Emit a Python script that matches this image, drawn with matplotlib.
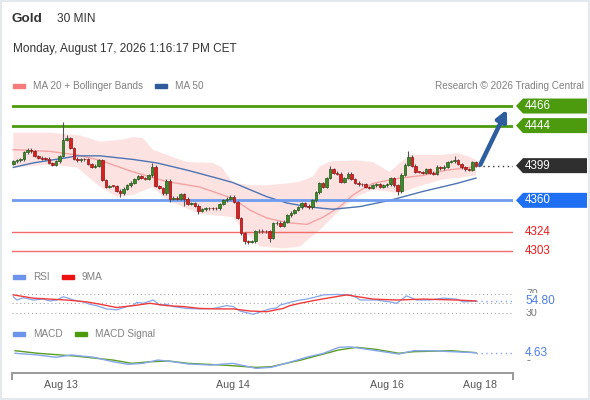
import matplotlib
matplotlib.use("Agg")
import matplotlib.pyplot as plt
import matplotlib.transforms as mtransforms
from matplotlib.patches import Polygon, Rectangle
import numpy as np

plt.rcParams['font.family'] = ['Liberation Sans', 'DejaVu Sans']

W, H = 590, 400

# ---- data (30 min candles, index = candle number) ----
first_open = 4401
closes = [4404, 4405, 4406, 4414, 4417, 4415, 4410, 4408, 4407, 4407,
          4402, 4400, 4404, 4410, 4428, 4430, 4419, 4407, 4405, 4406,
          4406, 4401, 4398, 4399, 4405, 4383, 4375, 4376, 4376, 4371,
          4368, 4373, 4377, 4380, 4384, 4387, 4385, 4384, 4388, 4398,
          4376, 4374, 4368, 4382, 4362, 4363, 4362, 4367, 4362, 4356,
          4357, 4354, 4348, 4350, 4351, 4351, 4351, 4351, 4356, 4360,
          4362, 4364, 4358, 4340, 4323, 4314, 4313, 4314, 4325, 4326,
          4325, 4325, 4318, 4334, 4335, 4331, 4336, 4343, 4346, 4349,
          4352, 4357, 4354, 4352, 4360, 4369, 4379, 4375, 4385, 4395,
          4391, 4390, 4381, 4385, 4390, 4384, 4380, 4378, 4378, 4375,
          4374, 4377, 4378, 4375, 4377, 4378, 4385, 4377, 4370, 4389,
          4400, 4409, 4399, 4392, 4392, 4391, 4395, 4391, 4390, 4397,
          4396, 4398, 4403, 4404, 4405, 4401, 4397, 4395, 4394, 4403,
          4399]
extra_high = {14: 4448, 15: 4434, 39: 4402, 89: 4399, 111: 4416, 119: 4400, 124: 4410}
extra_low = {30: 4364, 44: 4358, 48: 4354, 52: 4345, 65: 4311, 66: 4311, 72: 4313, 108: 4366}

bb_up_idx = [0, 10.3, 18.7, 24.4, 30, 33.6, 36.4, 39.2, 43.2, 48.8, 56.1, 58.6, 60,
             61.7, 66.5, 71.3, 76.9, 80.5, 84.2, 86.1, 88, 89.8, 96.5, 101, 105.8,
             108.6, 111.4, 120, 124.6, 128.3, 130]
bb_up = [4436, 4436, 4433, 4426, 4428, 4431, 4430, 4417, 4411, 4403, 4402, 4397, 4389,
         4380, 4377, 4377, 4379, 4381, 4387, 4398, 4402, 4404, 4405, 4403, 4392,
         4402, 4411, 4411, 4413, 4409, 4405]
bb_lo_idx = [0, 10.3, 17.9, 24.4, 29.1, 33.6, 39.2, 43.2, 52.4, 61.7, 64.5, 69.3,
             75.8, 80.5, 87, 91.8, 96.5, 101, 108.6, 113.4, 120, 124.6, 130]
bb_lo = [4397, 4400, 4397, 4375, 4364, 4366, 4375, 4360, 4345, 4341, 4327, 4308,
         4306, 4308, 4330, 4349, 4364, 4372, 4368, 4375, 4383, 4385, 4388]
ma20_idx = [0, 10.3, 17.9, 24.4, 33.6, 43.2, 52.4, 61.7, 66.5, 71.3, 76.9, 82.5,
            87, 91.8, 95.4, 97.4, 101, 108.6, 115.1, 121.8, 126.3, 130]
ma20 = [4417, 4415, 4411, 4405, 4392, 4381, 4375, 4362, 4349, 4340, 4335, 4333,
        4341, 4353, 4366, 4371, 4379, 4385, 4388, 4394, 4396, 4398]
ma50_idx = [0, 5.5, 15.1, 17.9, 24.4, 33.6, 40.4, 48.8, 57.2, 61.7, 66.5, 71.3,
            76.9, 82.5, 87, 89.8, 97.4, 105.8, 115.1, 124.6, 130]
ma50 = [4397, 4402, 4408, 4410, 4410, 4406, 4402, 4394, 4385, 4380, 4372, 4364,
        4357, 4353, 4351, 4350, 4353, 4360, 4370, 4379, 4385]

r2, r1, last_price, pivot, s1, s2 = 4466, 4444, 4399, 4360, 4324, 4303

rsi_idx = [0, 1.0, 2.8, 5.6, 8.4, 10.3, 12.2, 14.0, 15.0, 16.9, 19.7, 21.5, 23.4,
           26.2, 29.0, 31.9, 33.7, 34.7, 36.5, 39.3, 41.2, 43.1, 44.9, 48.7, 52.4,
           56.2, 59.9, 61.8, 63.7, 67.4, 70.2, 72.1, 74.0, 74.9, 77.7, 80.5, 82.4,
           85.2, 87.1, 90.8, 94.6, 96.5, 97.4, 102.1, 105.8, 107.7, 110.5, 113.3,
           117.0, 120.8, 124.6, 126.4, 130]
rsi = [64, 57, 62, 57, 59, 55, 57, 64, 62, 57, 53, 48, 45,
       38, 36, 43, 46, 52, 50, 57, 46, 48, 43, 39, 38,
       39, 45, 43, 33.5, 26.5, 33.5, 38, 40, 46, 52, 57, 59,
       64, 68, 69, 68, 62, 57, 57, 53, 50, 66, 57,
       57, 61, 59, 53, 54.8]
rsi_ma_idx = [0, 5.6, 15.0, 20.6, 24.4, 29.0, 33.7, 38.4, 43.1, 47.8, 52.4, 57.1,
              61.8, 66.5, 71.2, 75.8, 77.7, 80.5, 85.2, 93.6, 101.1, 107.7, 115.2,
              124.6, 130]
rsi_ma = [68, 61, 57, 53, 48, 41, 45, 50, 45, 43, 39, 38,
          38, 33.5, 32, 39, 45, 50, 57, 68, 59, 57, 59, 57, 55]
rsi_last = 54.80

macd_idx = [0.5, 6.8, 12.0, 16.3, 22.7, 28.0, 32.2, 36.4, 40.6, 44.9, 49.1, 55.5,
            61.7, 68.2, 72.4, 76.6, 82.9, 87.1, 91.4, 94.6, 97.7, 104.0, 108.3,
            112.5, 117.8, 123.1, 130]
macd = [4.1, 2.5, 0.3, 2.5, 0.3, -3.9, -6.3, -5.4, -2.3, -3.9, -6.0, -7.0,
        -5.4, -10.1, -9.2, -5.4, 0.8, 4.0, 9.6, 10.2, 8.7, 5.5, 3.4,
        6.5, 6.5, 5.6, 4.63]
sig_idx = [0.5, 6.8, 17.3, 28.0, 33.3, 38.5, 43.7, 49.1, 59.7, 68.2, 72.4, 80.8,
           86.2, 91.4, 96.5, 101.9, 108.3, 112.5, 123.1, 130]
sig = [6.5, 4.1, 1.5, -2.3, -5.4, -3.9, -3.2, -5.4, -7.2, -9.2, -8.6, -2.3,
       2.5, 7.2, 9.7, 7.8, 4.1, 5.6, 6.5, 4.63]
macd_last = 4.63

date_pos = [13.4, 61.7, 105.0, 131.1]
date_lab = ['Aug 13', 'Aug 14', 'Aug 16', 'Aug 18']

# ---- colours ----
GREEN = '#4c9a0e'
BLUE_LVL = '#6f9cef'
BLUE_BOX = '#1f6ff2'
RED_LVL = '#f26b6b'
GREY_TXT = '#808080'

fig = plt.figure(figsize=(W / 100, H / 100), dpi=100)


def fx(x):
    return x / W


def fy(y):
    return 1 - y / H


def axes_box(x0, y0, x1, y1):
    a = fig.add_axes([fx(x0), fy(y1), fx(x1) - fx(x0), fy(y0) - fy(y1)])
    a.set_facecolor('none')
    for s in a.spines.values():
        s.set_visible(False)
    a.set_xticks([])
    a.set_yticks([])
    return a


XLIM = (-0.37, 140.4)

ax = axes_box(12, 95, 513, 258)
ax.set_xlim(*XLIM)
ax.set_ylim(4295.2, 4478.4)

# Bollinger band + moving averages
ax.fill(np.concatenate([bb_up_idx, bb_lo_idx[::-1]]),
        np.concatenate([bb_up, bb_lo[::-1]]),
        color='#fde2e2', lw=0, zorder=0)
ax.plot(ma20_idx, ma20, color='#f4a3a3', lw=1.0, zorder=1)
ax.plot(ma50_idx, ma50, color='#4d74b3', lw=1.0, zorder=1)

# levels
ax.axhline(r2, color=GREEN, lw=2, zorder=2)
ax.axhline(r1, color=GREEN, lw=2, zorder=2)
ax.axhline(pivot, color=BLUE_LVL, lw=2, zorder=2)
ax.axhline(s1, color=RED_LVL, lw=1, zorder=2)
ax.axhline(s2, color=RED_LVL, lw=1, zorder=2)

# candles
n = len(closes)
idx = np.arange(n)
c = np.array(closes, float)
o = np.concatenate([[first_open], c[:-1]])
hi = np.maximum(o, c) + 1.5
lo = np.minimum(o, c) - 1.5
for k, v in extra_high.items():
    hi[k] = v
for k, v in extra_low.items():
    lo[k] = v
up = c > o
body_col = np.where(up, '#3b8a2a', '#dc1f1f')
edge_col = np.where(up, '#26581a', '#8e1414')
ax.vlines(idx, lo, hi, color='#555555', lw=0.8, zorder=4)
ax.bar(idx, np.maximum(np.abs(c - o), 0.7), bottom=np.minimum(o, c), width=0.72,
       color=body_col, edgecolor=edge_col, lw=0.5, zorder=5)

# last price dotted line and forecast arrow
ax.plot([n - 0.5, XLIM[1]], [last_price, last_price], color='#333333', lw=1,
        ls=(0, (1, 2.5)), zorder=3)
ax.annotate('', xy=(138.7, r2 - 4), xytext=(n + 0.2, last_price + 1),
            arrowprops=dict(arrowstyle='-|>', color='#2f5e9e', lw=3.2,
                            mutation_scale=16, shrinkA=0, shrinkB=0),
            zorder=6, annotation_clip=False)

# right side labels
tr = mtransforms.blended_transform_factory(fig.transFigure, ax.transData)
upp = (4478.4 - 4295.2) / 163.0  # price units per pixel
half = 7.5 * upp


def tag(level, color, txt_color='white'):
    pts = [(fx(516), level), (fx(523), level + half), (fx(587), level + half),
           (fx(587), level - half), (fx(523), level - half)]
    ax.add_patch(Polygon(pts, closed=True, transform=tr, facecolor=color,
                         edgecolor='none', clip_on=False, zorder=7))
    ax.text(fx(525), level, str(level), transform=tr, color=txt_color,
            fontsize=8.4, va='center', ha='left', zorder=8, clip_on=False)


tag(r2, GREEN)
tag(r1, GREEN)
tag(last_price, '#2f2f2f')
tag(pivot, BLUE_BOX)
for lvl in (s1, s2):
    ax.text(fx(525), lvl, str(lvl), transform=tr, color='#ee1c1c', fontsize=8.4,
            va='center', ha='left', clip_on=False)

# ---- RSI panel ----
ax_rsi = axes_box(12, 289, 513, 317)
ax_rsi.set_xlim(*XLIM)
ax_rsi.set_ylim(20.7, 80.6)
for lvl in (70, 50, 30):
    ax_rsi.axhline(lvl, color='#a8a8a8', lw=0.8, ls=(0, (1, 2.5)), zorder=0)
ax_rsi.plot(rsi_idx, rsi, color='#86a6ea', lw=0.9, zorder=2)
ax_rsi.plot(rsi_ma_idx, rsi_ma, color='#f03a3a', lw=1.0, zorder=3)
ax_rsi.plot([rsi_idx[-1], XLIM[1]], [rsi_last, rsi_last], color='#86a6ea', lw=1,
            ls=(0, (1, 2.5)))
tr_r = mtransforms.blended_transform_factory(fig.transFigure, ax_rsi.transData)
for lvl in (70, 30):
    ax_rsi.text(fx(526), lvl, str(lvl), transform=tr_r, color='#777777',
                fontsize=7.7, va='center', clip_on=False, zorder=1)
ax_rsi.text(fx(525), rsi_last, f'{rsi_last:.2f}', transform=tr_r, color='#4f7fe6',
            fontsize=8.6, va='center', clip_on=False, zorder=5,
            bbox=dict(facecolor='white', edgecolor='none', pad=1.2))

# ---- MACD panel ----
ax_macd = axes_box(12, 340, 513, 373)
ax_macd.set_xlim(*XLIM)
ax_macd.set_ylim(-14.5, 16.6)
ax_macd.plot(sig_idx, sig, color='#5a9e22', lw=1.0, zorder=2)
ax_macd.plot(macd_idx, macd, color='#86a6ea', lw=1.0, zorder=3)
ax_macd.plot([macd_idx[-1], XLIM[1]], [macd_last, macd_last], color='#86a6ea', lw=1,
             ls=(0, (1, 2.5)))
tr_m = mtransforms.blended_transform_factory(fig.transFigure, ax_macd.transData)
ax_macd.text(fx(526), 0, '0', transform=tr_m, color='#777777', fontsize=7.7,
             va='center', clip_on=False, zorder=1)
ax_macd.text(fx(525), macd_last, f'{macd_last:.2f}', transform=tr_m, color='#4f7fe6',
             fontsize=8.6, va='center', clip_on=False, zorder=5,
             bbox=dict(facecolor='white', edgecolor='none', pad=1.2))

# date axis on bottom of MACD panel
ax_macd.spines['bottom'].set_visible(True)
ax_macd.spines['bottom'].set_color('#9a9a9a')
ax_macd.spines['bottom'].set_linewidth(1.4)
ax_macd.set_xticks(date_pos, labels=date_lab)
ax_macd.tick_params(axis='x', which='major', length=0, pad=5, labelsize=7.7,
                    labelcolor='#555555')
ax_macd.set_xticks(list(XLIM), minor=True)
ax_macd.tick_params(axis='x', which='minor', length=5, width=1.4, color='#9a9a9a',
                    direction='out')

# ---- header texts and legends ----
fig.text(fx(12), fy(19), 'Gold', fontsize=9.7, fontweight='bold', color='#333333',
         va='center')
fig.text(fx(57), fy(19), '30 MIN', fontsize=8.6, color='#333333', va='center')
fig.text(fx(13), fy(49), 'Monday, August 17, 2026 1:16:17 PM CET', fontsize=8.5,
         color='#333333', va='center')


def legend_item(x, y, color, label):
    fig.patches.append(Rectangle((fx(x), fy(y + 2)), 12 / W, 4.5 / H, color=color,
                                 transform=fig.transFigure, figure=fig))
    fig.text(fx(x + 20), fy(y), label, fontsize=7.2, color=GREY_TXT, va='center')


legend_item(13, 86, '#f47c7c', 'MA 20 + Bollinger Bands')
legend_item(155, 86, '#2f5b9b', 'MA 50')
legend_item(13, 277, '#6d93ea', 'RSI')
legend_item(62, 277, '#ee1111', '9MA')
legend_item(13, 334, '#6d93ea', 'MACD')
legend_item(75, 334, '#4c9a0e', 'MACD Signal')
fig.text(fx(584), fy(86), 'Research \u00a9 2026 Trading Central', fontsize=7.2,
         color=GREY_TXT, va='center', ha='right')

# light frame round the picture
fig.patches.append(Rectangle((0, 0), 1, 1, transform=fig.transFigure, fill=False,
                             edgecolor='#e4e9ee', lw=3, figure=fig))

fig.savefig('out.png', dpi=100, facecolor='white')
